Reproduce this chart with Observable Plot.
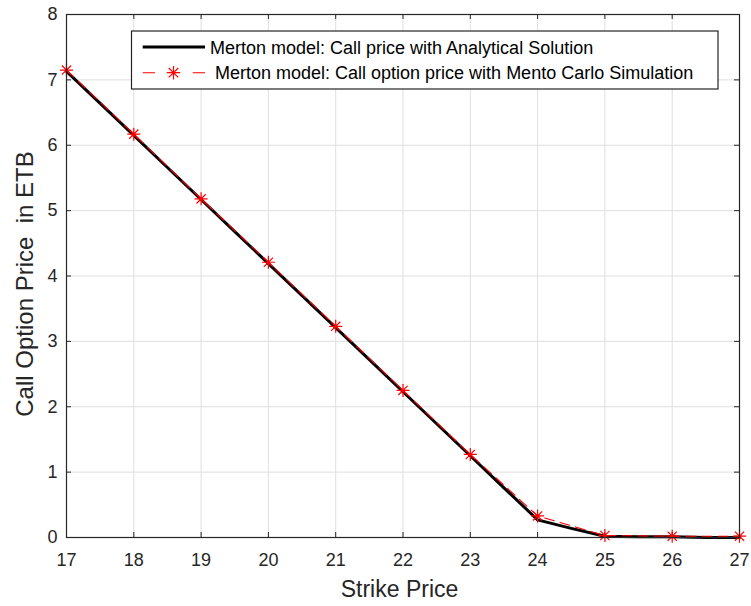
<!DOCTYPE html>
<html>
<head>
<meta charset="utf-8">
<script src="https://cdn.jsdelivr.net/npm/d3@7"></script>
<script src="https://cdn.jsdelivr.net/npm/@observablehq/plot@0.6"></script>
<style>
body { margin: 0; background: #fff; }
#chart svg { font-family: Arial, "Liberation Sans", sans-serif; }
#chart svg g[aria-label="x-axis tick label"], #chart svg g[aria-label="y-axis tick label"] { font-size: 18px; }
</style>
</head>
<body>
<div id="chart"></div>
<script>
// Analytical solution (finer strikes)
const strikesA = [17, 17.5, 18, 18.5, 19, 19.5, 20, 20.5, 21, 21.5, 22, 22.5, 23, 23.5, 24, 24.5, 25, 25.5, 26, 26.5, 27];
const priceA = [7.13, 6.64, 6.15, 5.66, 5.17, 4.68, 4.19, 3.70, 3.21, 2.72, 2.23, 1.74, 1.25, 0.76, 0.27, 0.14, 0.02, 0.01, 0.01, 0.0, 0.0];
// Monte Carlo simulation
const strikesMC = [17, 18, 19, 20, 21, 22, 23, 24, 25, 26, 27];
const priceMC = [7.15, 6.17, 5.18, 4.21, 3.23, 2.25, 1.27, 0.33, 0.03, 0.02, 0.02];
const xTicks = [17, 18, 19, 20, 21, 22, 23, 24, 25, 26, 27];
const yTicks = [0, 1, 2, 3, 4, 5, 6, 7, 8];
const legendLabels = ["Merton model: Call price with Analytical Solution", "Merton model: Call option price with Mento Carlo Simulation"];

const analytic = strikesA.map((k, i) => ({k, p: priceA[i]}));
const mc = strikesMC.map((k, i) => ({k, p: priceMC[i]}));

const asterisk = {
  draw(ctx, size) {
    const r = Math.sqrt(size / Math.PI);
    const d = r * Math.SQRT1_2;
    ctx.moveTo(-r, 0); ctx.lineTo(r, 0);
    ctx.moveTo(0, -r); ctx.lineTo(0, r);
    ctx.moveTo(-d, -d); ctx.lineTo(d, d);
    ctx.moveTo(-d, d); ctx.lineTo(d, -d);
  }
};

const W = 751, H = 606;
const tx = 5 / 67.3, ty = 5 / 65.4;
const ink = "#262626";

const plot = Plot.plot({
  width: W, height: H,
  marginLeft: 66, marginRight: 12, marginTop: 14, marginBottom: 69,
  style: {fontFamily: "Arial, 'Liberation Sans', sans-serif", color: ink, background: "#fff"},
  x: {domain: [17, 27], ticks: xTicks, label: null},
  y: {domain: [0, 8], ticks: yTicks, label: null},
  marks: [
    Plot.ruleX(xTicks, {stroke: "#dfdfdf", strokeWidth: 1}),
    Plot.ruleY(yTicks, {stroke: "#dfdfdf", strokeWidth: 1}),
    Plot.ruleX(xTicks, {y1: 0, y2: ty, stroke: ink}),
    Plot.ruleX(xTicks, {y1: 8, y2: 8 - ty, stroke: ink}),
    Plot.ruleY(yTicks, {x1: 17, x2: 17 + tx, stroke: ink}),
    Plot.ruleY(yTicks, {x1: 27, x2: 27 - tx, stroke: ink}),
    Plot.axisX({ticks: xTicks, tickSize: 0, tickPadding: 16, fontSize: 18, label: null, fill: ink}),
    Plot.axisY({ticks: yTicks, tickSize: 0, tickPadding: 9, fontSize: 18, label: null, fill: ink}),
    Plot.line(analytic, {x: "k", y: "p", stroke: "black", strokeWidth: 3}),
    Plot.line(mc, {x: "k", y: "p", stroke: "#ff0000", strokeWidth: 1.1, strokeDasharray: "10,6"}),
    Plot.dot(mc, {x: "k", y: "p", symbol: asterisk, r: 6.5, stroke: "#ff0000", strokeWidth: 1.2, fill: "none"}),
    Plot.frame({stroke: ink, strokeWidth: 1.2}),
    Plot.text(["Strike Price"], {frameAnchor: "bottom", textAnchor: "middle", lineAnchor: "middle", dx: -3.5, dy: 52, fontSize: 23, fill: ink}),
    Plot.text(["Call Option Price  in ETB"], {frameAnchor: "left", textAnchor: "middle", lineAnchor: "middle", dx: -41.5, dy: 8, rotate: -90, fontSize: 24, fill: ink})
  ]
});

document.getElementById("chart").appendChild(plot);

// Legend inside the axes
const svg = d3.select(plot);
const g = svg.append("g").attr("text-anchor", "start");
const bx = 131.5, by = 31, bw = 586.5, bh = 58;
g.append("rect").attr("x", bx).attr("y", by).attr("width", bw).attr("height", bh)
  .attr("fill", "white").attr("stroke", ink).attr("stroke-width", 1.2);
g.append("line").attr("x1", 142.7).attr("x2", 205).attr("y1", 47).attr("y2", 47)
  .attr("stroke", "black").attr("stroke-width", 3.2);
g.append("line").attr("x1", 142.7).attr("x2", 205).attr("y1", 72.7).attr("y2", 72.7)
  .attr("stroke", "#ff0000").attr("stroke-width", 1.1).attr("stroke-dasharray", "12.3,37.7");
const r = 6.7, d = r * Math.SQRT1_2, cx = 173.5, cy = 72.7;
g.append("path").attr("d", `M${cx-r},${cy}L${cx+r},${cy}M${cx},${cy-r}L${cx},${cy+r}M${cx-d},${cy-d}L${cx+d},${cy+d}M${cx-d},${cy+d}L${cx+d},${cy-d}`)
  .attr("stroke", "#ff0000").attr("stroke-width", 1.2).attr("fill", "none");
g.append("text").attr("x", 210).attr("y", 48).attr("dy", "0.35em").attr("font-size", 18).attr("fill", "#000").text(legendLabels[0]);
g.append("text").attr("x", 215).attr("y", 73).attr("dy", "0.35em").attr("font-size", 18).attr("fill", "#000").text(legendLabels[1]);
</script>
</body>
</html>
